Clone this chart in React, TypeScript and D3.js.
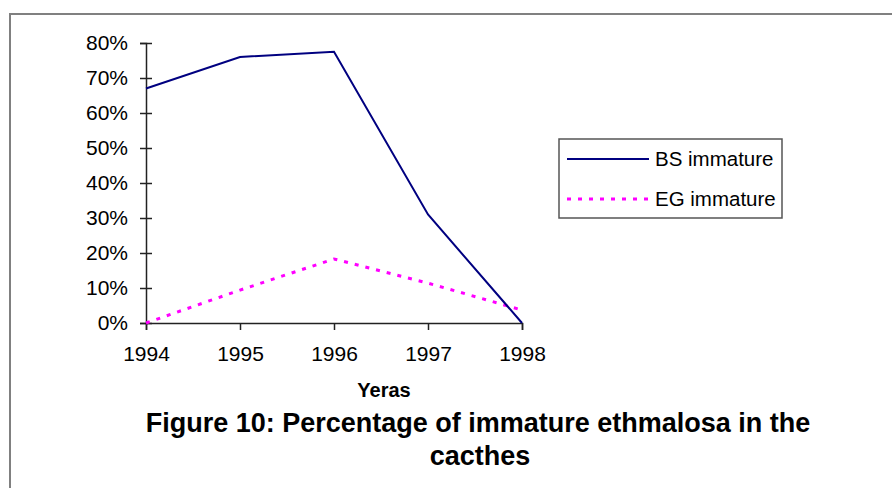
import * as d3 from "d3";
import React from "react";

// data
const years = [1994, 1995, 1996, 1997, 1998];
const bsImmature = [0.67, 0.76, 0.775, 0.31, 0.0];
const egImmature = [0.0, 0.094, 0.183, 0.114, 0.037];
const yTicks = [0, 0.1, 0.2, 0.3, 0.4, 0.5, 0.6, 0.7, 0.8];
const seriesNames = ["BS immature", "EG immature"];

const W = 892;
const H = 488;
const font = "'Liberation Sans', Arial, sans-serif";

const App: React.FC = () => {
  const ref = React.useRef<SVGSVGElement | null>(null);

  React.useEffect(() => {
    const svg = d3.select(ref.current);
    svg.selectAll("*").remove();

    // outer frame (runs off the right / bottom edge)
    svg.append("rect")
      .attr("x", 10).attr("y", 14)
      .attr("width", 920).attr("height", 520)
      .attr("fill", "white")
      .attr("stroke", "#808080")
      .attr("stroke-width", 2);

    const x = d3.scaleLinear().domain([1994, 1998]).range([146, 522]);
    const y = d3.scaleLinear().domain([0, 0.8]).range([323, 43]);

    // y axis
    const yAxis = svg.append("g")
      .attr("transform", "translate(146,0)")
      .call(d3.axisLeft(y).tickValues(yTicks).tickSize(6).tickFormat(d3.format(".0%")));
    yAxis.select(".domain").attr("stroke", "#222").attr("stroke-width", 1.5);
    yAxis.selectAll(".tick line").attr("x2", 6).attr("x1", -6).attr("stroke", "#222").attr("stroke-width", 1.5);
    yAxis.selectAll(".tick text")
      .attr("x", -18)
      .style("font-family", font).style("font-size", "21px").attr("fill", "#000");

    // x axis
    const xAxis = svg.append("g")
      .attr("transform", "translate(0,323)")
      .call(d3.axisBottom(x).tickValues(years).tickSize(7).tickFormat(d3.format("d")));
    xAxis.select(".domain").attr("stroke", "#222").attr("stroke-width", 1.5);
    xAxis.selectAll(".tick line").attr("stroke", "#222").attr("stroke-width", 1.5);
    xAxis.selectAll(".tick text")
      .attr("y", 23)
      .style("font-family", font).style("font-size", "21px").attr("fill", "#000");

    const line = d3.line<number>()
      .x((_, i) => x(years[i]))
      .y((d) => y(d));

    svg.append("path")
      .attr("d", line(egImmature))
      .attr("fill", "none")
      .attr("stroke", "#FF00FF")
      .attr("stroke-width", 3)
      .attr("stroke-dasharray", "4,7");

    svg.append("path")
      .attr("d", line(bsImmature))
      .attr("fill", "none")
      .attr("stroke", "#000080")
      .attr("stroke-width", 2);

    // legend
    const lg = svg.append("g");
    lg.append("rect")
      .attr("x", 559).attr("y", 139)
      .attr("width", 223).attr("height", 79)
      .attr("fill", "white")
      .attr("stroke", "#555").attr("stroke-width", 1.5);
    const styles = [
      { color: "#000080", width: 2, dash: null },
      { color: "#FF00FF", width: 3, dash: "4,7" },
    ];
    seriesNames.forEach((name, i) => {
      const cy = 159 + i * 40;
      lg.append("line")
        .attr("x1", 567).attr("x2", 649)
        .attr("y1", cy).attr("y2", cy)
        .attr("stroke", styles[i].color)
        .attr("stroke-width", styles[i].width)
        .attr("stroke-dasharray", styles[i].dash);
      lg.append("text")
        .attr("x", 655).attr("y", cy + 7)
        .style("font-family", font).style("font-size", "20.5px")
        .text(name);
    });

    // axis title + caption
    svg.append("text")
      .attr("x", 384).attr("y", 397)
      .attr("text-anchor", "middle")
      .style("font-family", font).style("font-size", "20px").style("font-weight", "bold")
      .text("Yeras");
    svg.append("text")
      .attr("x", 478).attr("y", 432)
      .attr("text-anchor", "middle")
      .style("font-family", font).style("font-size", "27px").style("font-weight", "bold")
      .text("Figure 10: Percentage of immature ethmalosa in the");
    svg.append("text")
      .attr("x", 480).attr("y", 465)
      .attr("text-anchor", "middle")
      .style("font-family", font).style("font-size", "27px").style("font-weight", "bold")
      .text("cacthes");
  }, []);

  return (
    <svg
      ref={ref}
      width={W}
      height={H}
      style={{ position: "absolute", left: 0, top: 0, background: "white" }}
    />
  );
};

export default App;
